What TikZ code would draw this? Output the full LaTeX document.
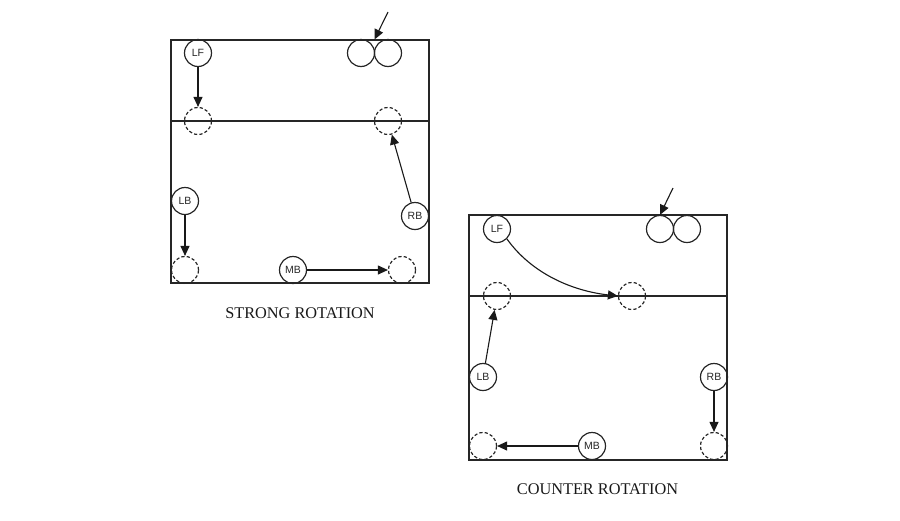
\documentclass[tikz,border=0pt]{standalone}
\usepackage{fontspec}
\setmainfont{Liberation Serif}
\newfontfamily\lblfont{Liberation Sans}
\usetikzlibrary{arrows.meta,positioning}

\begin{document}
\begin{tikzpicture}[
  x=1pt,y=-1pt,
  court/.style={draw=black!85,line width=1.3pt},
  plyr/.style={circle,draw=black!85,line width=1.2pt,minimum size=27pt,inner sep=0pt,
    font=\lblfont\fontsize{10.5}{12}\selectfont,text=black!85},
  ghost/.style={circle,draw=black!85,dashed,dash pattern=on 3.2pt off 2.2pt,line width=1.2pt,
    minimum size=27pt,inner sep=0pt},
  ptr/.style={-{Triangle[length=10pt,width=9pt]},line width=1.1pt,draw=black!90},
  title/.style={font=\fontsize{16.3}{18}\selectfont,text=black!90},
]
\useasboundingbox (0,0) rectangle (900,520);

% strong rotation
\draw[court] (171,40) rectangle (429,283);
\draw[court] (171,121) -- (429,121);
\node[plyr] (sLF) at (198,53) {LF};
\node[plyr] (sLB) at (185,201) {LB};
\node[plyr] (sMB) at (293,270) {MB};
\node[plyr] (sRB) at (415,216) {RB};
\node[plyr] (sSrvA) at (361,53) {};
\node[plyr] (sSrvB) at (388,53) {};
\node[ghost] (sLFg) at (198,121) {};
\node[ghost] (sRBg) at (388,121) {};
\node[ghost] (sLBg) at (185,270) {};
\node[ghost] (sMBg) at (402,270) {};
\coordinate (sTail) at (388,12);
\coordinate (sJoin) at (374.5,39.5);
\draw[ptr] (sTail) -- (sJoin);
\draw[ptr] (sLF) -- (sLFg);
\draw[ptr] (sRB) -- (sRBg);
\draw[ptr] (sLB) -- (sLBg);
\draw[ptr] (sMB) -- (sMBg);
\node[title] (sTitle) at (300,313) {STRONG ROTATION};

% counter rotation
\draw[court] (469,215) rectangle (727,460);
\draw[court] (469,296) -- (727,296);
\node[plyr] (cLF) at (497,229) {LF};
\node[plyr] (cLB) at (483,377) {LB};
\node[plyr] (cMB) at (592,446) {MB};
\node[plyr] (cRB) at (714,377) {RB};
\node[plyr] (cSrvA) at (660,229) {};
\node[plyr] (cSrvB) at (687,229) {};
\node[ghost] (cLFg) at (632,296) {};
\node[ghost] (cLBg) at (497,296) {};
\node[ghost] (cRBg) at (714,446) {};
\node[ghost] (cMBg) at (483,446) {};
\coordinate (cTail) at (673,188);
\draw[ptr] (cTail) -- (cSrvA.north);
\draw[ptr] (cLF.-45) .. controls +(25,35) and +(-45,-5) .. (cLFg.west);
\draw[ptr] (cLB) -- (cLBg);
\draw[ptr] (cRB) -- (cRBg);
\draw[ptr] (cMB) -- (cMBg);
\node[title] (cTitle) at (597.5,489) {COUNTER ROTATION};
\end{tikzpicture}
\end{document}
